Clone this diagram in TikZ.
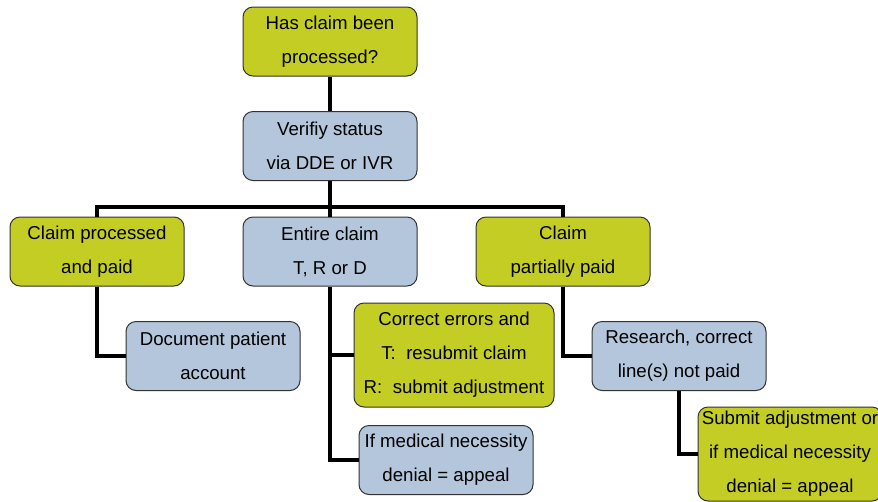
\documentclass[tikz,border=0pt]{standalone}
\usepackage{fontspec}
\setmainfont{Liberation Sans}
\usepackage{tikz}

\definecolor{boxgreen}{RGB}{196,205,36}
\definecolor{boxblue}{RGB}{180,198,219}
\definecolor{boxline}{RGB}{50,50,50}

\tikzset{
  box/.style={draw=boxline, line width=0.75pt, rounded corners=7.5pt, align=center, inner sep=1pt,
    minimum width=130.5pt, minimum height=51.75pt, font={\fontsize{14}{25.5}\selectfont}},
  gbox/.style={box, fill=boxgreen},
  bbox/.style={box, fill=boxblue},
  link/.style={draw=black, line width=2.3pt}
}

\begin{document}
\begin{tikzpicture}[x=0.75pt,y=0.75pt,yscale=-1,xscale=1]
\useasboundingbox (0,0) rectangle (878,501);

% Boxes
\node (question) at (330,41.5) [gbox] {Has claim been\\processed?};
\node (verify) at (330,146) [bbox] {Verifiy status\\via DDE or IVR};
\node (paid) at (97,251.5) [gbox] {Claim processed\\and paid};
\node (entire) at (330,251.5) [bbox] {Entire claim\\T, R or D};
\node (partial) at (563,251.5) [gbox] {Claim\\partially paid};
\node (document) at (213,356) [bbox] {Document patient\\account};
\node (correct) at (454,355) [gbox, minimum width=150pt, minimum height=78pt] {Correct errors and\\T:\ \ resubmit claim\\R:\ \ submit adjustment};
\node (denial) at (446,460) [bbox] {If medical necessity\\denial = appeal};
\node (research) at (679,356) [bbox] {Research, correct\\line(s) not paid};
\node (adjust) at (790,454) [gbox, minimum width=138pt, minimum height=70.5pt] {Submit adjustment or\\if medical necessity\\denial = appeal};

% Connectors
\coordinate (bus) at (330,207);
\draw [link] (question) -- (verify);
\draw [link] (verify) -- (entire);
\draw [link] (paid.north) |- (bus) -| (partial.north);
\draw [link] (paid.south) |- (document.west);
\draw [link] (entire.south) |- (denial.west);
\draw [link] (entire.south |- correct.west) -- (correct.west);
\draw [link] (partial.south) |- (research.west);
\draw [link] (research.south) |- (adjust.west);

\end{tikzpicture}
\end{document}
